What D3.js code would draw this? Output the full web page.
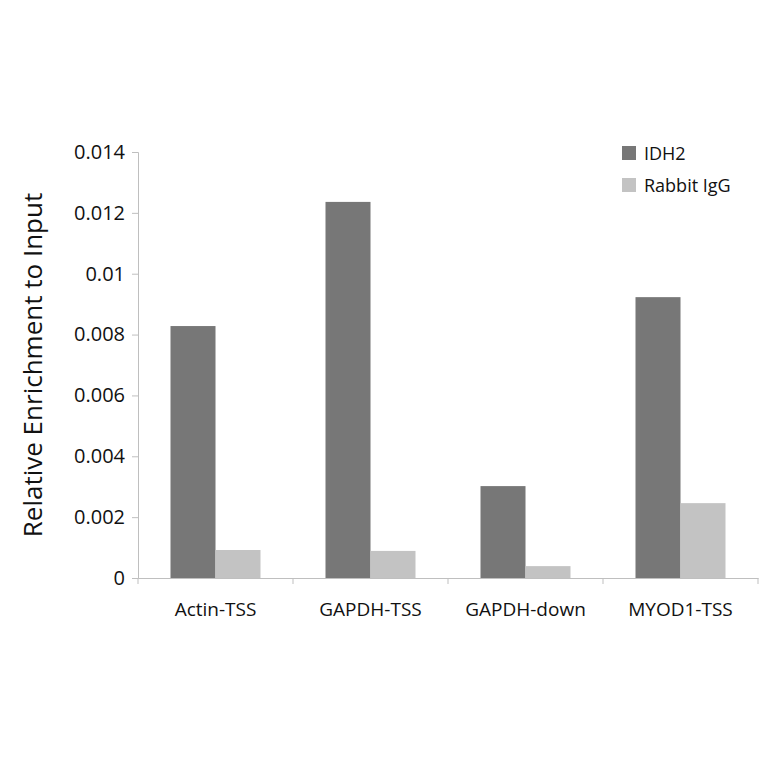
<!DOCTYPE html>
<html><head><meta charset="utf-8">
<script src="https://cdn.jsdelivr.net/npm/d3@7"></script>
<style>body{margin:0;background:#fff}</style>
</head><body>
<svg id="chart" width="764" height="764"></svg>
<script>
const categories = ['Actin-TSS', 'GAPDH-TSS', 'GAPDH-down', 'MYOD1-TSS'];
const seriesNames = ['IDH2', 'Rabbit IgG'];
const idh2 = [0.00828, 0.01236, 0.00302, 0.00923];
const rabbitIgG = [0.00092, 0.00089, 0.00039, 0.00246];
const yTicks = [0, 0.002, 0.004, 0.006, 0.008, 0.01, 0.012, 0.014];
const colors = ['#777777', '#c3c3c3'];

const svg = d3.select('#chart');
const font = "'Open Sans', 'Noto Sans', sans-serif";
const margin = {left: 138, right: 758, top: 152, bottom: 578};

const x = d3.scaleBand().domain(categories).range([margin.left, margin.right]);
const barPad = (x.bandwidth() - 90) / 2;
const xs = d3.scaleBand().domain(seriesNames).range([barPad, x.bandwidth() - barPad]);
const y = d3.scaleLinear().domain([0, 0.014]).range([margin.bottom, margin.top]);

// y axis
const yAxis = svg.append('g').attr('transform', `translate(${margin.left},0)`)
  .call(d3.axisLeft(y).tickValues(yTicks).tickSize(6).tickFormat(d => d === 0 ? '0' : String(+d.toFixed(3))));
yAxis.select('.domain').attr('stroke', '#bfbfbf');
yAxis.selectAll('line').attr('stroke', '#bfbfbf');
yAxis.selectAll('text').attr('font-family', font).attr('font-size', 20).attr('fill', '#111').attr('dx', -4);

// bars
const data = categories.map((c, i) => ({c, vals: [idh2[i], rabbitIgG[i]]}));
const g = svg.append('g');
data.forEach(d => {
  g.selectAll(null).data(d.vals).enter().append('rect')
    .attr('x', (v, j) => x(d.c) + xs(seriesNames[j]))
    .attr('width', xs.bandwidth())
    .attr('y', v => y(v))
    .attr('height', v => y(0) - y(v))
    .attr('fill', (v, j) => colors[j]);
});

// x axis
const xAxis = svg.append('g').attr('transform', `translate(0,${margin.bottom})`)
  .call(d3.axisBottom(x).tickSize(0).tickPadding(25));
xAxis.select('.domain').attr('stroke', '#bfbfbf');
xAxis.selectAll('text').attr('font-family', font).attr('font-size', 19).attr('fill', '#111');
xAxis.selectAll(null).data(categories.concat([null])).enter().append('line')
  .attr('x1', (d, i) => margin.left + i * x.bandwidth())
  .attr('x2', (d, i) => margin.left + i * x.bandwidth())
  .attr('y1', 0).attr('y2', 6).attr('stroke', '#bfbfbf');

// y label
svg.append('text').attr('transform', 'translate(42,365) rotate(-90)')
  .attr('text-anchor', 'middle').attr('font-family', font).attr('font-size', 26).attr('fill', '#111')
  .text('Relative Enrichment to Input');

// legend
const leg = svg.append('g').attr('transform', 'translate(622,146)');
seriesNames.forEach((s, i) => {
  leg.append('rect').attr('x', 0).attr('y', i * 32).attr('width', 14).attr('height', 14).attr('fill', colors[i]);
  leg.append('text').attr('x', 22).attr('y', i * 32 + 14).attr('font-family', font)
    .attr('font-size', 18).attr('fill', '#111').text(s);
});
</script>
</body></html>
